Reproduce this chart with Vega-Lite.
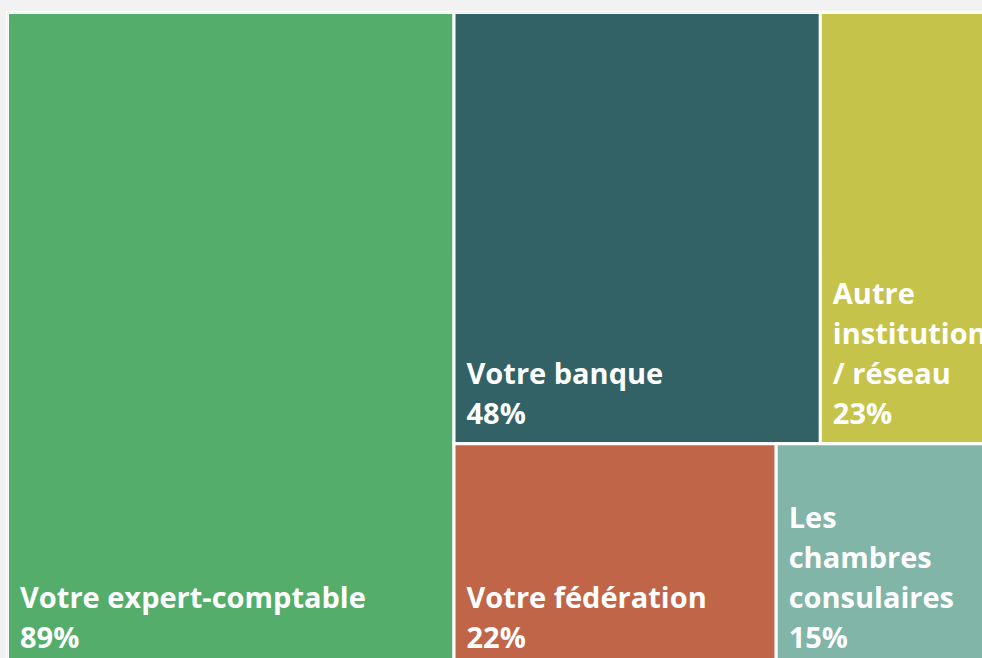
{
  "$schema": "https://vega.github.io/schema/vega-lite/v6.json",
  "width": 974.5,
  "height": 645.5,
  "autosize": {"type": "none"},
  "padding": {"left": 7.5, "top": 12.5, "right": 0, "bottom": 0},
  "background": "#f2f2f2",
  "config": {
    "view": {"fill": "white", "stroke": "white", "strokeWidth": 3}
  },
  "data": {
    "values": [
      {"name": "Votre expert-comptable", "pct": 89, "col": "a", "row": "all"},
      {"name": "Votre banque", "pct": 48, "col": "b", "row": "top"},
      {"name": "Autre\ninstitution\n/ réseau", "pct": 23, "col": "b", "row": "top"},
      {"name": "Votre fédération", "pct": 22, "col": "b", "row": "bottom"},
      {"name": "Les\nchambres\nconsulaires", "pct": 15, "col": "b", "row": "bottom"}
    ]
  },
  "transform": [
    {"joinaggregate": [{"op": "sum", "field": "pct", "as": "total"}]},
    {"joinaggregate": [{"op": "sum", "field": "pct", "as": "colTotal"}], "groupby": ["col"]},
    {"joinaggregate": [{"op": "sum", "field": "pct", "as": "rowTotal"}], "groupby": ["col", "row"]},
    {"stack": "pct", "groupby": ["col", "row"], "sort": [{"field": "pct", "order": "descending"}], "as": ["s0", "s1"]},
    {"calculate": "datum.col === 'a' ? 0 : 1 - datum.colTotal / datum.total", "as": "cx0"},
    {"calculate": "datum.col === 'a' ? datum.colTotal / datum.total : 1", "as": "cx1"},
    {"calculate": "datum.row === 'bottom' ? 1 - datum.rowTotal / datum.colTotal : 0", "as": "ry0"},
    {"calculate": "datum.row === 'top' ? datum.rowTotal / datum.colTotal : 1", "as": "ry1"},
    {"calculate": "datum.cx0 + (datum.cx1 - datum.cx0) * datum.s0 / datum.rowTotal", "as": "x0"},
    {"calculate": "datum.cx0 + (datum.cx1 - datum.cx0) * datum.s1 / datum.rowTotal", "as": "x1"},
    {"calculate": "datum.name + '\\n' + datum.pct + '%'", "as": "label"},
    {"calculate": "length(split(datum.label, '\\n'))", "as": "nLines"}
  ],
  "encoding": {
    "x": {"field": "x0", "type": "quantitative", "scale": {"domain": [0, 0.986], "nice": false, "zero": false}, "axis": null},
    "y": {"field": "ry1", "type": "quantitative", "scale": {"domain": [0, 0.984], "nice": false, "zero": false, "reverse": true}, "axis": null}
  },
  "layer": [
    {
      "mark": {"type": "rect", "stroke": "white", "strokeWidth": 3, "clip": true},
      "encoding": {
        "x2": {"field": "x1"},
        "y": {"field": "ry0", "type": "quantitative"},
        "y2": {"field": "ry1"},
        "color": {
          "field": "name",
          "type": "nominal",
          "scale": {
            "domain": ["Votre expert-comptable", "Votre banque", "Autre\ninstitution\n/ réseau", "Votre fédération", "Les\nchambres\nconsulaires"],
            "range": ["#55ad6c", "#326166", "#c6c34a", "#c06547", "#80b5a7"]
          },
          "legend": null
        }
      }
    },
    {
      "transform": [{"filter": "datum.nLines == 2"}],
      "mark": {
        "type": "text",
        "align": "left",
        "baseline": "bottom",
        "dx": 12.5,
        "dy": -54,
        "font": "Open Sans",
        "fontWeight": "bold",
        "fontSize": 29,
        "lineHeight": 40,
        "lineBreak": "\n",
        "color": "white"
      },
      "encoding": {
        "text": {"field": "label"}
      }
    },
    {
      "transform": [{"filter": "datum.nLines == 4"}],
      "mark": {
        "type": "text",
        "align": "left",
        "baseline": "bottom",
        "dx": 12.5,
        "dy": -134,
        "font": "Open Sans",
        "fontWeight": "bold",
        "fontSize": 29,
        "lineHeight": 40,
        "lineBreak": "\n",
        "color": "white"
      },
      "encoding": {
        "text": {"field": "label"}
      }
    }
  ]
}
